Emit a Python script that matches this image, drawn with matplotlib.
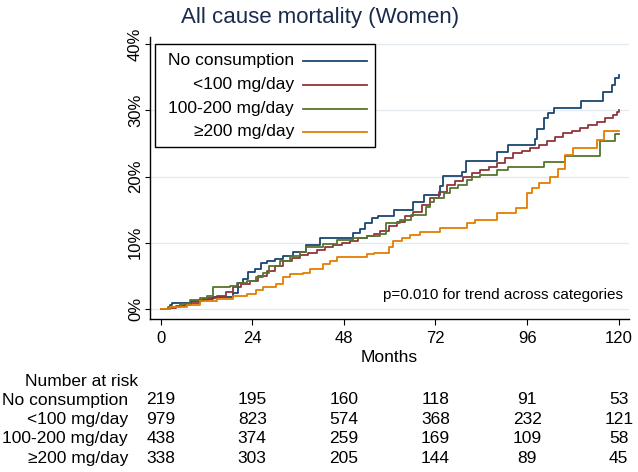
import matplotlib
matplotlib.use('Agg')
import matplotlib.pyplot as plt
import matplotlib.transforms as mtransforms
from matplotlib.patches import Rectangle
from matplotlib.lines import Line2D

plt.rcParams['font.family'] = ['Liberation Sans', 'DejaVu Sans']

# cumulative mortality (%) step curves
groups = ['No consumption', '<100 mg/day', '100-200 mg/day', '\u2265200 mg/day']
colors = ['#1a476f', '#90353b', '#55752f', '#e37e00']

t_none = [0, 2.4, 3, 8, 11, 13.8, 19, 20.3, 21.6, 22.9, 24.7, 26.2, 27.8, 29.9, 32.1, 34.7,
          38.2, 41.7, 50.5, 52.2, 53.5, 55.3, 57, 61, 66, 69, 73.2, 74, 79, 80, 88, 91.1,
          98, 98.6, 100.5, 101.5, 103, 110.1, 116, 118.2, 119, 120]
p_none = [0, 0.6, 0.9, 1.2, 1.5, 1.8, 2.4, 3.9, 4.6, 5.6, 6.1, 6.9, 7.2, 7.6, 8.0, 8.6,
          9.6, 10.8, 11.5, 12.1, 13.0, 13.7, 14.0, 14.9, 16.2, 17.2, 18.6, 20.1, 20.7, 22.3, 23.7, 24.8,
          25.6, 27.1, 28.8, 29.6, 30.4, 31.4, 32.7, 33.8, 34.8, 35.3]

t_low = [0, 2, 4, 6, 8, 10.3, 12.5, 14.7, 17, 19, 21, 23.4, 25.5, 27.8, 30, 32.1, 34.3,
         36.5, 38.7, 40.9, 43, 45.2, 47.4, 49.6, 51.8, 54, 56, 57.5, 59.7, 61.9, 64, 66.2,
         68.4, 70.6, 72.8, 75, 77, 79.3, 81.5, 83.7, 86, 88, 90.2, 92.4, 94.6, 96.8, 99,
         101.1, 103.3, 105.5, 107.7, 109.9, 112, 114.2, 116.4, 118.6, 119.5, 120]
p_low = [0, 0.2, 0.4, 0.65, 0.9, 1.3, 1.6, 2.0, 2.6, 3.3, 3.8, 4.3, 5.0, 5.7, 6.5, 7.2, 7.7,
         8.2, 8.5, 8.9, 9.3, 9.7, 10.0, 10.3, 10.7, 11.0, 11.3, 11.8, 12.5, 13.2, 14.0, 14.7,
         15.7, 16.7, 17.7, 18.7, 19.4, 20.0, 20.5, 21.0, 21.5, 22.0, 22.8, 23.5, 23.9, 24.3, 24.8,
         25.3, 25.9, 26.5, 26.9, 27.3, 27.8, 28.3, 28.8, 29.3, 29.8, 30.1]

t_mid = [0, 2, 5, 7.7, 10.3, 12.1, 13.8, 18.2, 20, 22.5, 25.1, 26.8, 28.5, 31.2, 33.8, 36.5,
         38.2, 42.6, 46.1, 50.5, 54, 57.5, 59.1, 62.7, 65.7, 69.6, 70.6, 71.5, 74.1, 75.8,
         78, 80.2, 81.5, 83.7, 88, 91.1, 100.3, 105.9, 115.1, 119, 120]
p_mid = [0, 0.3, 0.75, 1.3, 1.7, 2.0, 3.3, 3.5, 4.0, 4.3, 4.8, 5.5, 6.5, 7.3, 8.0, 8.6,
         9.4, 9.8, 10.4, 10.8, 11.1, 11.4, 13.0, 13.4, 14.2, 15.4, 16.2, 16.7, 17.5, 18.2,
         18.7, 19.5, 20.0, 20.2, 21.0, 21.5, 22.2, 23.1, 25.4, 26.4, 26.4]

t_high = [0, 2.4, 6.8, 10.3, 14.7, 19, 22.5, 25.1, 26.8, 30.3, 32.1, 33.8, 37.3, 39.1, 42.6,
          44.3, 46.1, 54, 56, 59.7, 60.9, 63.1, 65.3, 67.9, 73.2, 80.2, 82.4, 88, 93.1, 95.9,
          97.2, 99, 102, 104.2, 105.9, 108.1, 114.2, 116.1, 120]
p_high = [0, 0.25, 0.65, 1.2, 1.5, 1.9, 2.3, 2.9, 3.4, 3.8, 4.8, 5.3, 5.5, 6.0, 6.8,
          7.3, 7.9, 8.3, 8.4, 9.4, 10.2, 10.7, 11.2, 11.7, 12.2, 13.0, 13.5, 14.5, 15.3, 17.5,
          18.2, 19.0, 20.0, 21.2, 23.2, 24.3, 25.5, 26.8, 26.8]

month_ticks = [0, 24, 48, 72, 96, 120]
pct_ticks = [0, 10, 20, 30, 40]
at_risk = [
    [219, 195, 160, 118, 91, 53],
    [979, 823, 574, 368, 232, 121],
    [438, 374, 259, 169, 109, 58],
    [338, 303, 205, 144, 89, 45],
]

W, H = 638, 472
fig = plt.figure(figsize=(W / 100, H / 100), dpi=100)

def fx(px):
    return px / W

def fy(py):
    return 1 - py / H

ax = fig.add_axes([fx(150), fy(319), fx(629) - fx(150), fy(37) - fy(319)])

curves = [(t_none, p_none), (t_low, p_low), (t_mid, p_mid), (t_high, p_high)]
for (t, p), c in zip(curves, colors):
    ax.plot(t, p, drawstyle='steps-post', color=c, lw=1.3, zorder=3)

ax.set_xlim(-2.8, 122.7)
ax.set_ylim(-1.5, 41.06)
ax.set_xticks(month_ticks)
ax.set_yticks(pct_ticks)
ax.set_yticklabels([f'{v}%' for v in pct_ticks], rotation=90, va='center')
ax.yaxis.grid(True, color='#e4ebf0', lw=1)
ax.set_axisbelow(True)
for s in ['top', 'right']:
    ax.spines[s].set_visible(False)
for s in ['left', 'bottom']:
    ax.spines[s].set_linewidth(1.0)
ax.tick_params(axis='x', length=4.3, width=0.8, pad=4.5, labelsize=12)
ax.tick_params(axis='y', length=3.5, width=0.8, pad=1.5, labelsize=12)

# title, axis label, p-value
fig.text(fx(320), fy(22.5), 'All cause mortality (Women)', ha='center', va='baseline',
         fontsize=16, color='#1a2b4c')
fig.text(fx(389.5), fy(362), 'Months', ha='center', va='baseline', fontsize=12.5)
fig.text(fx(623), fy(298.5), 'p=0.010 for trend across categories', ha='right',
         va='baseline', fontsize=11)

# legend box
box = Rectangle((fx(155), fy(147)), fx(375) - fx(155), fy(44) - fy(147),
                transform=fig.transFigure, facecolor='white', edgecolor='black',
                lw=1.0, zorder=5)
fig.add_artist(box)
row_y = [61, 85, 109, 132]
for g, c, y in zip(groups, colors, row_y):
    fig.text(fx(294), fy(y), g, ha='right', va='center', fontsize=12.5, zorder=6)
    fig.add_artist(Line2D([fx(303), fx(367)], [fy(y), fy(y)], color=c, lw=1.3,
                          transform=fig.transFigure, zorder=6))

# number at risk table
trans = mtransforms.blended_transform_factory(ax.transData, fig.transFigure)
fig.text(fx(25), fy(381), 'Number at risk', ha='left', va='center', fontsize=12.5)
table_y = [400, 419.3, 438.7, 458.3]
for g, counts, y in zip(groups, at_risk, table_y):
    fig.text(fx(128), fy(y), g, ha='right', va='center', fontsize=12.5)
    for m, n in zip(month_ticks, counts):
        ax.text(m, fy(y), str(n), transform=trans, ha='center', va='center',
                fontsize=12.5, clip_on=False)

fig.savefig('out.png', dpi=100)
